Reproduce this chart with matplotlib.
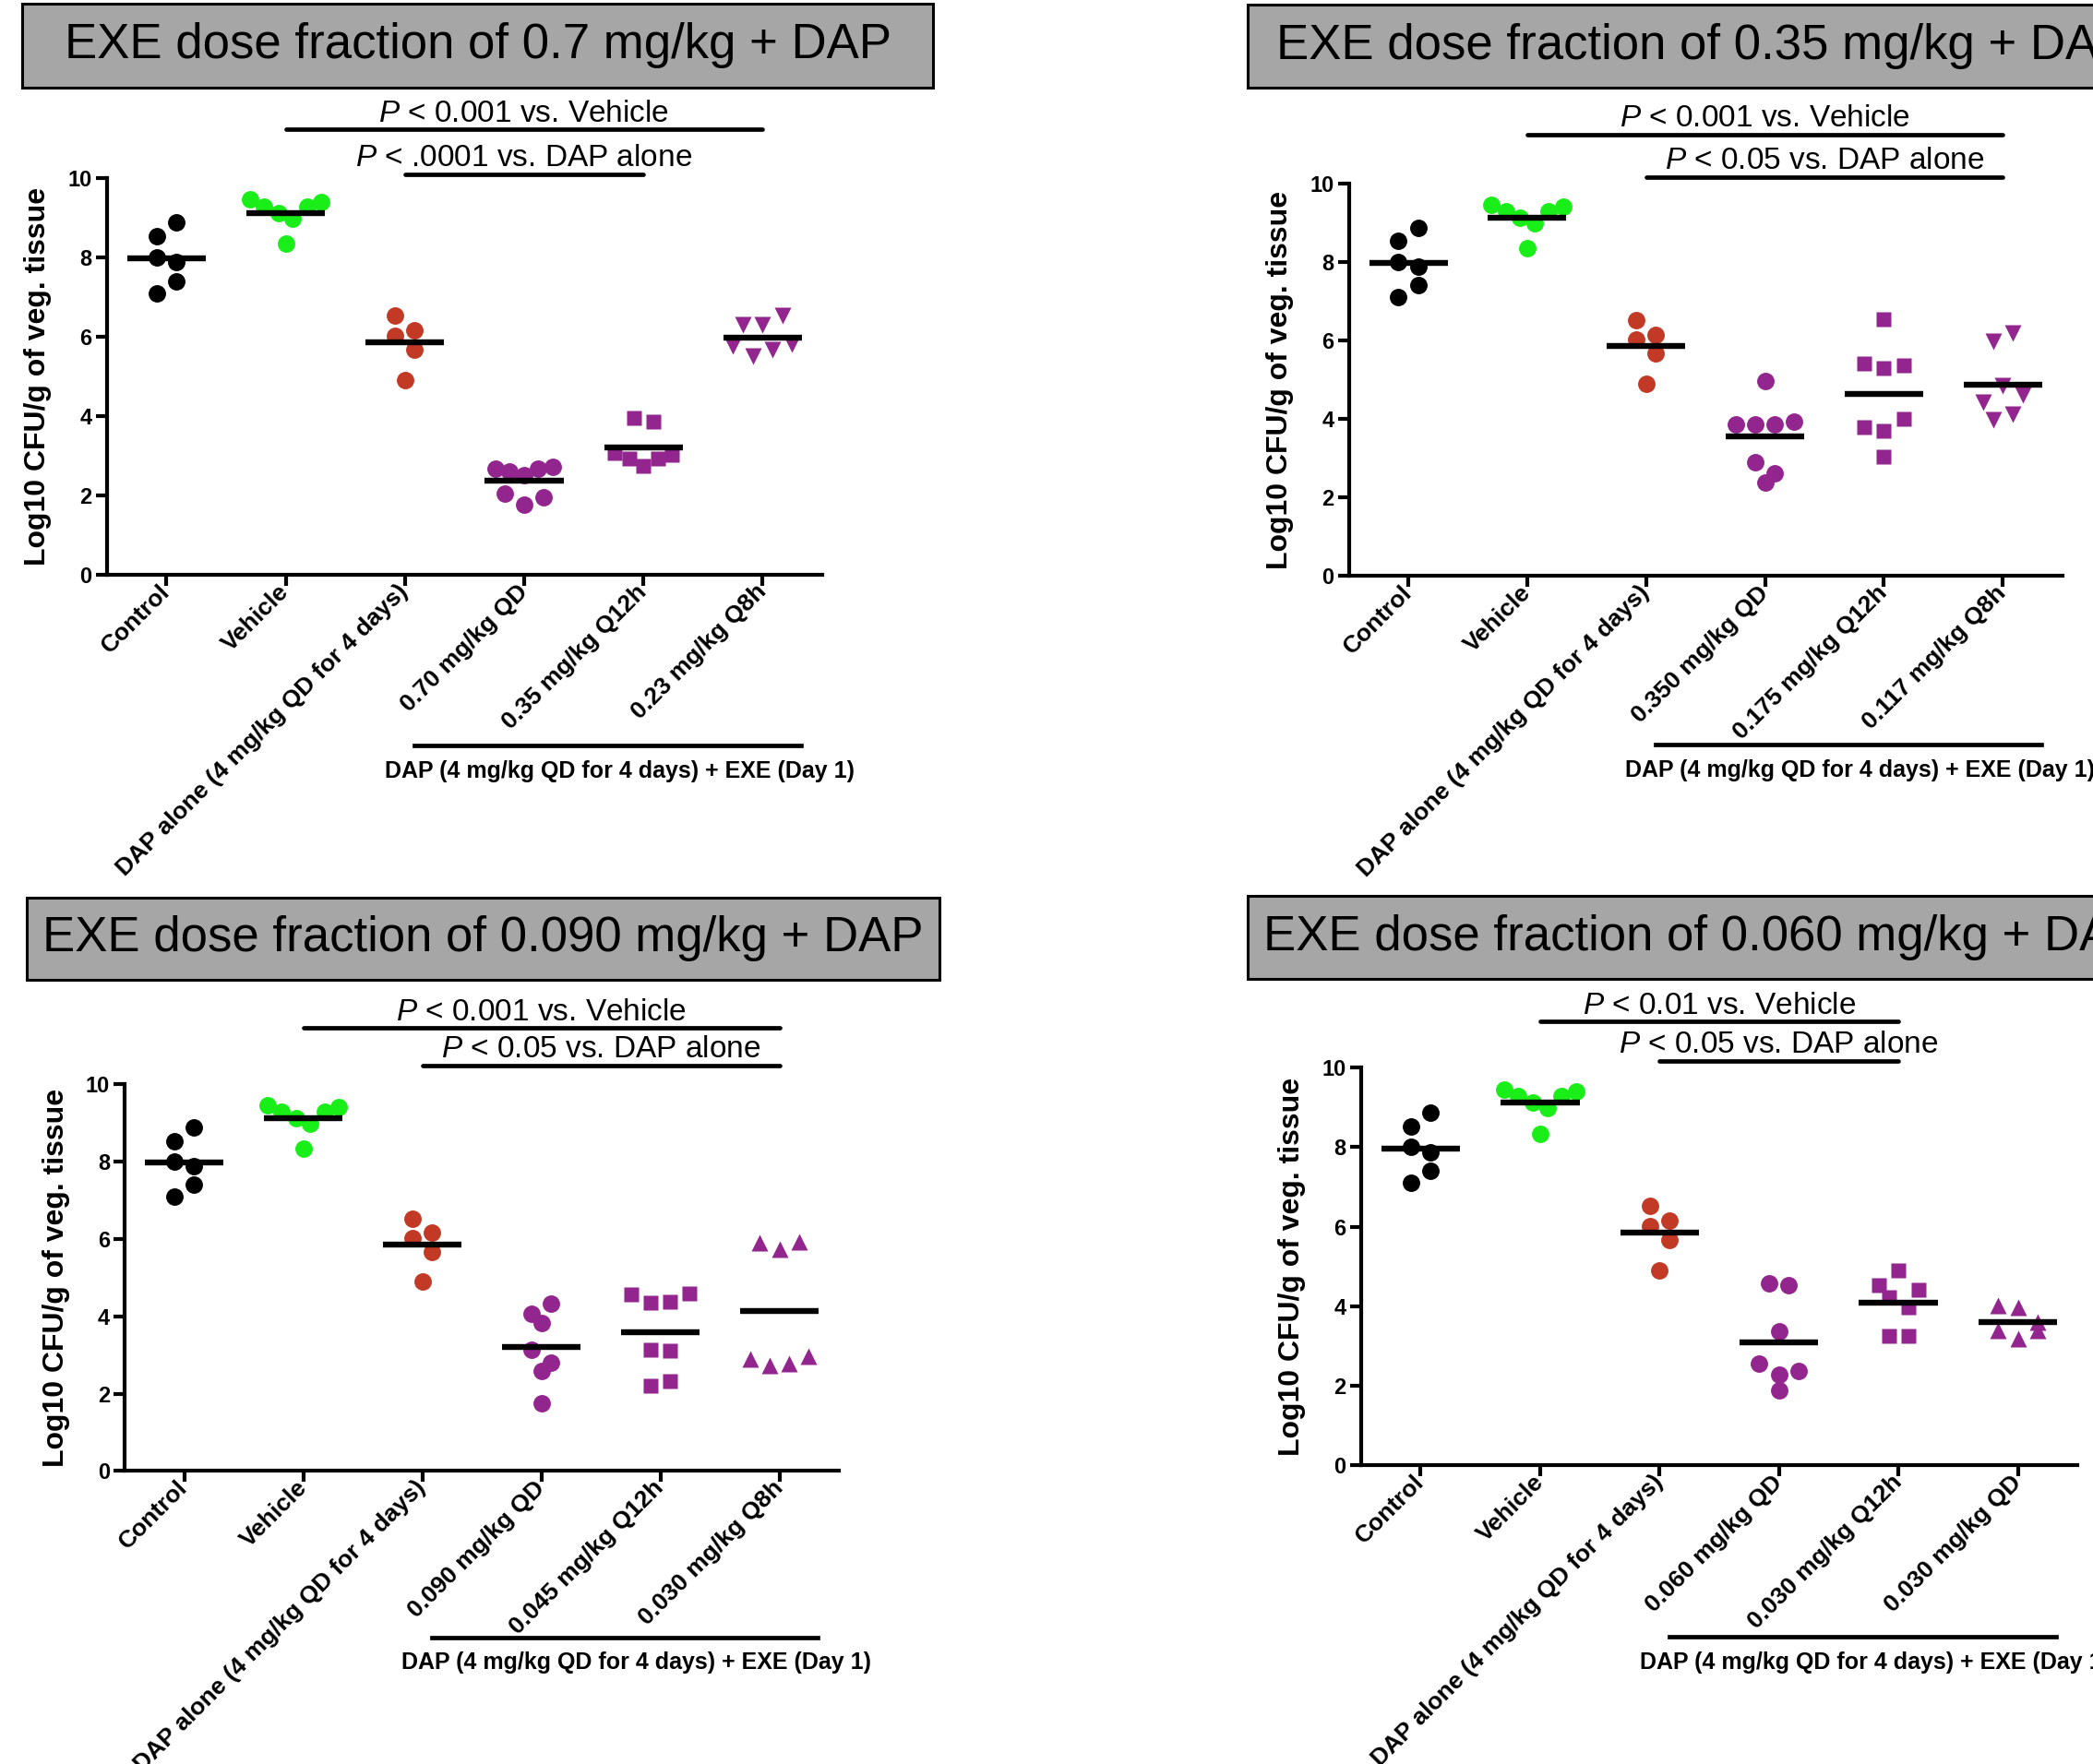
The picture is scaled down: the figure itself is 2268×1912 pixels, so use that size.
import numpy as np
import matplotlib
matplotlib.use("Agg")
import matplotlib.pyplot as plt
from matplotlib.patches import Rectangle

plt.rcParams["font.family"] = ["Liberation Sans", "DejaVu Sans"]
plt.rcParams["mathtext.fontset"] = "custom"
plt.rcParams["mathtext.rm"] = "Liberation Sans"
plt.rcParams["mathtext.it"] = "Liberation Sans:italic"

W, H = 2268, 1912

# ---- data (log10 CFU/g) ----
control = [8.53, 8.87, 8.00, 7.88, 7.10, 7.40]
vehicle = [9.45, 9.28, 9.12, 8.98, 9.28, 9.40, 8.34]
dap_alone = [6.52, 6.02, 6.15, 5.67, 4.90]

p1_qd = [2.68, 2.60, 2.50, 2.68, 2.73, 2.04, 1.76, 1.95]
p1_q12 = [3.95, 3.85, 3.07, 2.93, 2.75, 2.93, 3.03]
p1_q8 = [6.29, 6.29, 6.54, 5.76, 5.52, 5.67, 5.81]

p2_qd = [4.96, 3.87, 3.87, 3.87, 3.93, 2.89, 2.38, 2.61]
p2_q12 = [6.55, 5.42, 5.30, 5.37, 3.78, 3.70, 4.00, 3.05]
p2_q8 = [5.98, 6.19, 4.43, 4.86, 4.61, 3.98, 4.11]

p3_qd = [4.07, 4.32, 3.82, 3.14, 2.81, 2.59, 1.76]
p3_q12 = [4.56, 4.34, 4.36, 4.59, 3.14, 3.10, 2.21, 2.33]
p3_q8 = [5.89, 5.73, 5.92, 2.90, 2.73, 2.78, 2.97]

p4_qd = [4.58, 4.54, 3.38, 2.55, 2.28, 2.38, 1.88]
p4_q12 = [4.54, 4.89, 4.41, 4.23, 3.98, 3.25, 3.25]
p4_qd2 = [4.02, 3.97, 3.60, 3.40, 3.18, 3.40]

dap_label = "DAP alone (4 mg/kg QD for 4 days)"
p1_labels = ["Control", "Vehicle", dap_label, "0.70 mg/kg QD", "0.35 mg/kg Q12h", "0.23 mg/kg Q8h"]
p2_labels = ["Control", "Vehicle", dap_label, "0.350 mg/kg QD", "0.175 mg/kg Q12h", "0.117 mg/kg Q8h"]
p3_labels = ["Control", "Vehicle", dap_label, "0.090 mg/kg QD", "0.045 mg/kg Q12h", "0.030 mg/kg Q8h"]
p4_labels = ["Control", "Vehicle", dap_label, "0.060 mg/kg QD", "0.030 mg/kg Q12h", "0.030 mg/kg QD"]

titles = ["EXE dose fraction of 0.7 mg/kg + DAP", "EXE dose fraction of 0.35 mg/kg + DAP",
          "EXE dose fraction of 0.090 mg/kg + DAP", "EXE dose fraction of 0.060 mg/kg + DAP"]

p1_stats = ["$P$ < 0.001 vs. Vehicle", "$P$ < .0001 vs. DAP alone"]
p2_stats = ["$P$ < 0.001 vs. Vehicle", "$P$ < 0.05 vs. DAP alone"]
p3_stats = ["$P$ < 0.001 vs. Vehicle", "$P$ < 0.05 vs. DAP alone"]
p4_stats = ["$P$ < 0.01 vs. Vehicle", "$P$ < 0.05 vs. DAP alone"]
p1_spans = [(1, 5), (2, 4)]
p2_spans = [(1, 5), (2, 5)]
p3_spans = [(1, 5), (2, 5)]
p4_spans = [(1, 4), (2, 4)]

combo_label = "DAP (4 mg/kg QD for 4 days) + EXE (Day 1)"

# ---- styles / layout ----
BLACK, GREEN, RED, PURPLE = "#000000", "#19EE19", "#C23A26", "#93258F"
colors = [BLACK, GREEN, RED, PURPLE, PURPLE, PURPLE]

panels = [
    dict(groups=[control, vehicle, dap_alone, p1_qd, p1_q12, p1_q8], labels=p1_labels,
         markers=["o", "o", "o", "o", "s", "v"], stats=p1_stats, spans=p1_spans,
         ax_px=(115.7, 192.7, 891.0, 623.1), title_px=(24, 4.3, 1011, 94.5), bar_y=(11.22, 10.09)),
    dict(groups=[control, vehicle, dap_alone, p2_qd, p2_q12, p2_q8], labels=p2_labels,
         markers=["o", "o", "o", "o", "s", "v"], stats=p2_stats, spans=p2_spans,
         ax_px=(1461.6, 198.8, 2234.7, 624.3), title_px=(1352, 4.9, 2339, 94.5), bar_y=(11.25, 10.17)),
    dict(groups=[control, vehicle, dap_alone, p3_qd, p3_q12, p3_q8], labels=p3_labels,
         markers=["o", "o", "o", "o", "s", "^"], stats=p3_stats, spans=p3_spans,
         ax_px=(135.2, 1174.9, 909.0, 1594.4), title_px=(29, 972.5, 1017.6, 1061.5), bar_y=(11.45, 10.48)),
    dict(groups=[control, vehicle, dap_alone, p4_qd, p4_q12, p4_qd2], labels=p4_labels,
         markers=["o", "o", "o", "o", "s", "^"], stats=p4_stats, spans=p4_spans,
         ax_px=(1474.6, 1157.2, 2251.4, 1588.3), title_px=(1352.4, 971.2, 2341, 1060.9), bar_y=(11.16, 10.17)),
]


def row_offsets(vals, tol=0.5):
    """GraphPad-like scatter: points of similar value share a centred row."""
    vals = np.asarray(vals, dtype=float)
    order = np.argsort(-vals, kind="stable")
    rows = []
    for i in order:
        if rows and vals[rows[-1][0]] - vals[i] < tol:
            rows[-1].append(i)
        else:
            rows.append([i])
    off = np.zeros(len(vals))
    for r in rows:
        r = sorted(r)
        step = 0.165 if len(r) <= 4 else 0.12
        for k, i in enumerate(r):
            off[i] = (k - (len(r) - 1) / 2) * step
    return off


fig = plt.figure(figsize=(W / 200, H / 200), dpi=200)

for p, title in zip(panels, titles):
    x0, y0, x1, y1 = p["ax_px"]
    ax = fig.add_axes([x0 / W, 1 - y1 / H, (x1 - x0) / W, (y1 - y0) / H])

    for i, (vals, mk, col) in enumerate(zip(p["groups"], p["markers"], colors)):
        xs = i + row_offsets(vals)
        ms = 6.0 if mk == "s" else 6.8
        ax.plot(xs, vals, ls="none", marker=mk, ms=ms, color=col, mec="none", zorder=3)
        m = np.mean(vals)
        ax.plot([i - 0.33, i + 0.33], [m, m], color="black", lw=2.3, solid_capstyle="butt", zorder=4)

    ax.set_xlim(-0.5, 5.5)
    ax.set_ylim(0, 10)
    ax.spines[["top", "right"]].set_visible(False)
    for s in ["left", "bottom"]:
        ax.spines[s].set_linewidth(1.5)
    ax.set_yticks([0, 2, 4, 6, 8, 10])
    ax.tick_params(axis="both", length=4.3, width=1.5, direction="out")
    ax.tick_params(axis="y", labelsize=8.5, pad=1.5)
    ax.tick_params(axis="x", pad=1)
    for t in ax.get_yticklabels():
        t.set_fontweight("bold")
    ax.set_xticks(range(6))
    ax.set_xticklabels(p["labels"], rotation=45, ha="right", va="center",
                       rotation_mode="anchor", fontsize=9.5, fontweight="bold")
    ax.set_ylabel("Log10 CFU/g of veg. tissue", fontsize=11.5, fontweight="bold", va="center")
    ax.yaxis.set_label_coords(-0.096, 0.5)

    # significance bars above the plot
    for (a, b), txt, yb in zip(p["spans"], p["stats"], p["bar_y"]):
        ax.plot([a, b], [yb, yb], color="black", lw=1.7, solid_capstyle="round", clip_on=False)
        ax.text((a + b) / 2, yb + 0.2, txt, fontsize=12, ha="center", va="baseline")

    # combination treatment bracket below the tick labels
    ax.plot([2.08, 5.32], [-4.3, -4.3], color="black", lw=1.7, clip_on=False)
    ax.text(3.8, -4.95, combo_label, fontsize=9, fontweight="bold", ha="center", va="center")

    # grey title box
    bx0, by0, bx1, by1 = title_px = p["title_px"]
    fig.add_artist(Rectangle((bx0 / W, 1 - by1 / H), (bx1 - bx0) / W, (by1 - by0) / H,
                             transform=fig.transFigure, facecolor="#A6A6A6",
                             edgecolor="black", lw=1.1))
    fig.text((bx0 + bx1) / 2 / W, 1 - (by0 + by1) / 2 / H, title, fontsize=19,
             ha="center", va="center")

fig.savefig("out.png", dpi=200, facecolor="white")
